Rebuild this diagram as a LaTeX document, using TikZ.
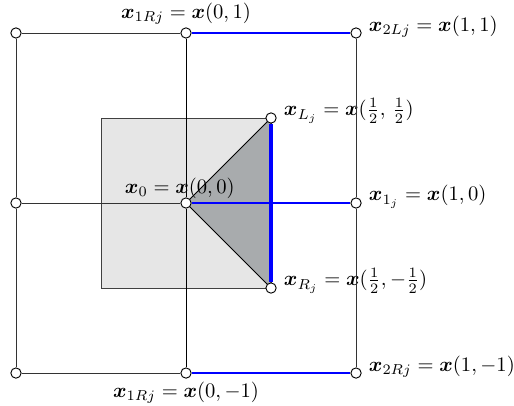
\documentclass[tikz,border=0pt]{standalone}
\usepackage{amsmath}
\usepackage{bm}
\usetikzlibrary{calc}

\tikzset{
	pt/.style={circle,draw=black,fill=white,inner sep=0pt,minimum size=5pt,line width=0.45pt},
	trait/.style={line width=0.45pt,black!80},
	bleu/.style={blue,line width=0.55pt},
	bleuepais/.style={blue,line width=1.3pt},
	bleuultra/.style={blue,line width=2.1pt}
}
\definecolor{grisfonce}{RGB}{168,171,173}
\definecolor{grisclair}{RGB}{230,230,230}

\begin{document}
\begin{tikzpicture}[x=2.9cm,y=2.9cm]
		\useasboundingbox (-1.094,-1.188) rectangle (1.929,1.194);
		\coordinate(O)at(0,0);
		\coordinate(cL)at(0.5,0.5);
		\coordinate(cR)at(0.5,-0.5);
		% carré intérieur et triangle
		\filldraw[fill=grisclair,draw=black!75,line width=0.45pt] (-0.5,-0.5) rectangle (0.5,0.5);
		\filldraw[fill=grisfonce,draw=black,line width=0.45pt] (O) -- (cL) -- (cR) -- cycle;
		% points de la grille
		\node[pt] (NW) at (-1,1) {};
		\node[pt,label={[label distance=-2pt]above:$\bm{x}_{1Rj}=\bm{x}(0,1)$}] (N) at (0,1) {};
		\node[pt,label={[yshift=3pt]right:$\bm{x}_{2Lj}=\bm{x}(1,1)$}] (NE) at (1,1) {};
		\node[pt] (W) at (-1,0) {};
		\node[pt,label={[label distance=-4pt,xshift=-3pt]above:$\bm{x}_{0}=\bm{x}(0,0)$}] (Z) at (O) {};
		\node[pt,label={[yshift=3pt]right:$\bm{x}_{1_j}=\bm{x}(1,0)$}] (E) at (1,0) {};
		\node[pt] (SW) at (-1,-1) {};
		\node[pt,label={[label distance=-2pt]below:$\bm{x}_{1Rj}=\bm{x}(0,-1)$}] (S) at (0,-1) {};
		\node[pt,label={[yshift=3pt]right:$\bm{x}_{2Rj}=\bm{x}(1,-1)$}] (SE) at (1,-1) {};
		\node[pt,label={[yshift=3.5pt]right:$\bm{x}_{L_j}=\bm{x}(\frac{1}{2},\,\frac{1}{2})$}] (L) at (cL) {};
		\node[pt,label={[yshift=3.5pt]right:$\bm{x}_{R_j}=\bm{x}(\frac{1}{2},-\frac{1}{2})$}] (R) at (cR) {};
		% cadre extérieur
		\draw[trait] (N) -- (NW) -- (W) -- (SW) -- (S);
		\draw[trait] (NE) -- (E) -- (SE);
		\draw[trait] (W) -- (Z);
		\draw[black,line width=0.45pt] (N) -- (Z) -- (S);
		% segments bleus
		\draw[bleu] (N) -- (NE);
		\draw[bleu] (S) -- (SE);
		\draw[bleuepais] (Z) -- (E);
		\draw[bleuultra] (L) -- (R);
	\end{tikzpicture}
\end{document}
